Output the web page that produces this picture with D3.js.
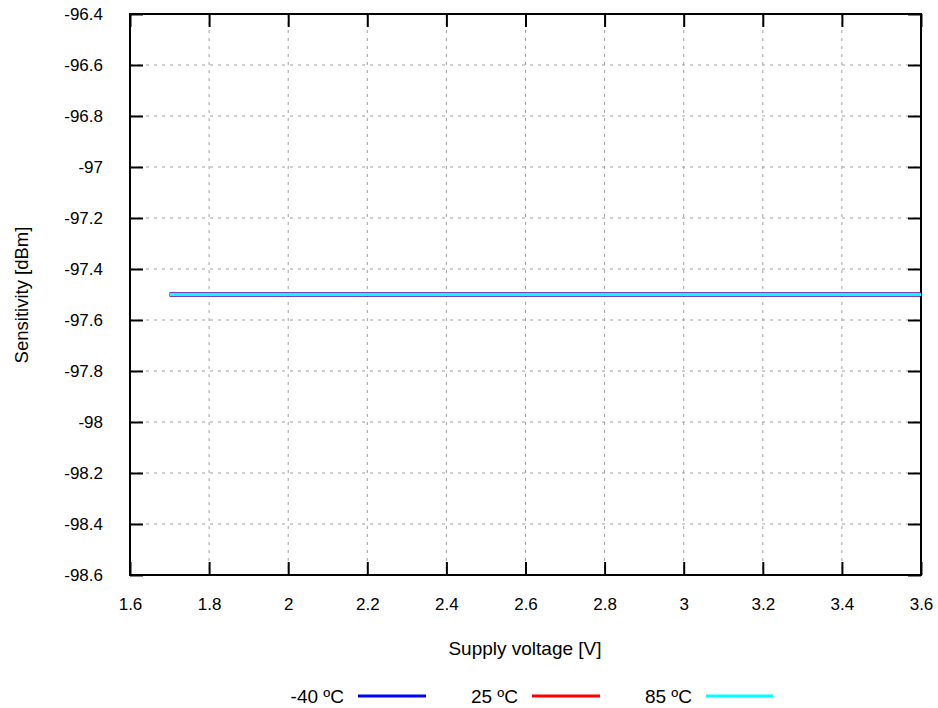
<!DOCTYPE html>
<html><head><meta charset="utf-8">
<script src="https://cdn.jsdelivr.net/npm/d3@7"></script>
<style>body{margin:0;background:#fff}svg{display:block}text{font-family:"Liberation Sans",Arial,sans-serif;fill:#000}</style>
</head><body><svg id="c" width="938" height="708"></svg>
<script>
const voltages = [1.7, 1.8, 2.0, 2.2, 2.4, 2.6, 2.8, 3.0, 3.2, 3.4, 3.6];
const sensM40 = [-97.5, -97.5, -97.5, -97.5, -97.5, -97.5, -97.5, -97.5, -97.5, -97.5, -97.5];
const sens25  = [-97.5, -97.5, -97.5, -97.5, -97.5, -97.5, -97.5, -97.5, -97.5, -97.5, -97.5];
const sens85  = [-97.5, -97.5, -97.5, -97.5, -97.5, -97.5, -97.5, -97.5, -97.5, -97.5, -97.5];
const seriesNames = ["-40 ºC", "25 ºC", "85 ºC"];
const seriesColors = ["#0000ff", "#ff0000", "#00ffff"];
const xTicks = [1.6, 1.8, 2.0, 2.2, 2.4, 2.6, 2.8, 3.0, 3.2, 3.4, 3.6];
const yTicks = [-96.4, -96.6, -96.8, -97, -97.2, -97.4, -97.6, -97.8, -98, -98.2, -98.4, -98.6];

const svg = d3.select("#c");
const L = 130, R = 921, T = 14, B = 575;
const x = d3.scaleLinear().domain([1.6, 3.6]).range([L, R]);
const y = d3.scaleLinear().domain([-98.6, -96.4]).range([B, T]);
const fmt = d => String(+d.toFixed(1));

// grid
const g = svg.append("g");
g.selectAll(".gx").data(xTicks.slice(1, -1)).join("line")
  .attr("x1", d => x(d)).attr("x2", d => x(d)).attr("y1", T).attr("y2", B)
  .attr("stroke", "#a0a0a0").attr("stroke-width", 1).attr("stroke-dasharray", "3,5");
g.selectAll(".gy").data(yTicks.slice(1, -1)).join("line")
  .attr("y1", d => y(d)).attr("y2", d => y(d)).attr("x1", L).attr("x2", R)
  .attr("stroke", "#a0a0a0").attr("stroke-width", 1).attr("stroke-dasharray", "3,5");

// axes with inner ticks on all sides
const tl = 13;
const axB = d3.axisBottom(x).tickValues(xTicks).tickSize(-tl).tickPadding(tl + 10).tickFormat(fmt);
const axT = d3.axisTop(x).tickValues(xTicks).tickSize(-tl).tickFormat("");
const axLf = d3.axisLeft(y).tickValues(yTicks).tickSize(-tl).tickPadding(tl + 14).tickFormat(fmt);
const axRt = d3.axisRight(y).tickValues(yTicks).tickSize(-tl).tickFormat("");
function style(sel) {
  sel.select(".domain").remove();
  sel.selectAll(".tick line").attr("stroke", "#000").attr("stroke-width", 2);
  sel.selectAll(".tick text").attr("font-size", 17).attr("fill", "#000");
}
svg.append("g").attr("transform", `translate(0,${B})`).call(axB).call(style);
svg.append("g").attr("transform", `translate(0,${T})`).call(axT).call(style);
svg.append("g").attr("transform", `translate(${L},0)`).call(axLf).call(style);
svg.append("g").attr("transform", `translate(${R},0)`).call(axRt).call(style);
svg.append("rect").attr("x", L).attr("y", T).attr("width", R - L).attr("height", B - T)
  .attr("fill", "none").attr("stroke", "#000").attr("stroke-width", 2);

// series (drawn red, blue, then cyan on top)
const seriesData = [sensM40, sens25, sens85];
const line = d3.line().x(d => x(d[0])).y(d => y(d[1]));
[1, 0, 2].forEach(i => {
  svg.append("path").datum(voltages.map((v, j) => [v, seriesData[i][j]]))
    .attr("d", line).attr("fill", "none").attr("stroke", seriesColors[i])
    .attr("stroke-width", i === 2 ? 2.8 : 3.8);
});

// axis titles
svg.append("text").attr("x", 525).attr("y", 655).attr("text-anchor", "middle")
  .attr("font-size", 19).text("Supply voltage [V]");
svg.append("text").attr("transform", "translate(28,295) rotate(-90)").attr("text-anchor", "middle")
  .attr("font-size", 18.5).text("Sensitivity [dBm]");

// legend
const legX = [[344, 358, 426], [518, 532, 600], [692, 706, 773]];
seriesNames.forEach((n, i) => {
  svg.append("text").attr("x", legX[i][0]).attr("y", 703).attr("text-anchor", "end")
    .attr("font-size", 19).text(n);
  svg.append("line").attr("x1", legX[i][1]).attr("x2", legX[i][2]).attr("y1", 696).attr("y2", 696)
    .attr("stroke", seriesColors[i]).attr("stroke-width", 3);
});
</script></body></html>
